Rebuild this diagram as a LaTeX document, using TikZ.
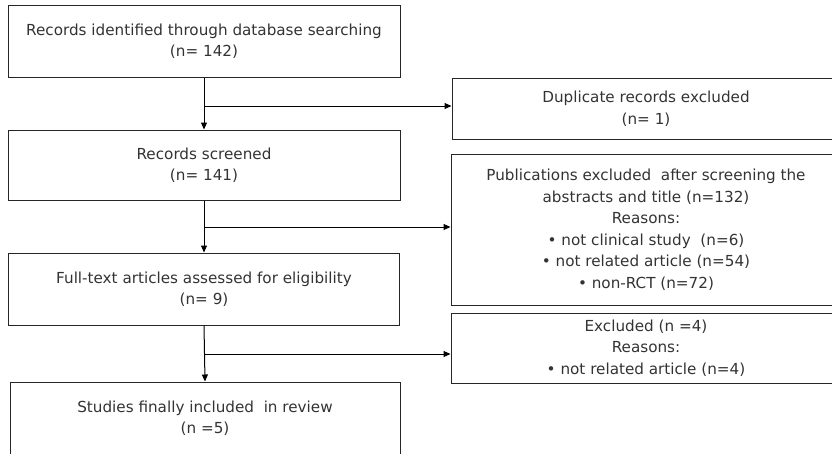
\documentclass[tikz,border=0pt]{standalone}
\usepackage{fontspec}
\setmainfont{DejaVu Sans}
\usetikzlibrary{arrows.meta}
\begin{document}
\begin{tikzpicture}[x=1pt,y=-1pt,
  box/.style={draw=black!85,line width=1pt,text=black!80,align=center,
    font=\fontsize{15.2}{21.5}\selectfont,inner sep=0pt,anchor=center},
  conn/.style={draw=black,line width=1pt},
  arr/.style={conn,-{Triangle[length=7pt,width=6pt]}}]
\clip (0,0) rectangle (832,453);
\node[box,minimum width=392,minimum height=72] (b1) at (204,41)
  {Records identified through database searching\\(n= 142)};
\node[box,minimum width=392,minimum height=70] (b2) at (204,165)
  {Records screened\\(n= 141)};
\node[box,minimum width=391,minimum height=72] (b3) at (204,289)
  {Full-text articles assessed for eligibility\\(n= 9)};
\node[box,minimum width=390,minimum height=72] (b4) at (205,418)
  {Studies finally included\ \ in review\\(n =5)};
\node[box,minimum width=388,minimum height=61] (r1) at (646,108.5)
  {Duplicate records excluded\\(n= 1)};
\node[box,minimum width=390,minimum height=151] (r2) at (646,229.5)
  {Publications excluded\ \ after screening the\\abstracts and title (n=132)\\Reasons:\\{\textbullet} not clinical study\ \ (n=6)\\{\textbullet} not related article (n=54)\\{\textbullet} non-RCT (n=72)};
\node[box,minimum width=390,minimum height=70] (r3) at (646,348)
  {Excluded (n =4)\\Reasons:\\{\textbullet} not related article (n=4)};
\coordinate (j1) at (204,106);
\coordinate (j2) at (204,227);
\coordinate (j3) at (204,354);
\draw[arr] (b1.south) -- (b2.north);
\draw[arr] (b2.south) -- (b3.north);
\draw[arr] (b3.south) -- (b4.north);
\draw[arr] (j1) -- (j1 -| r1.west);
\draw[arr] (j2) -- (j2 -| r2.west);
\draw[arr] (j3) -- (j3 -| r3.west);
\end{tikzpicture}
\end{document}
